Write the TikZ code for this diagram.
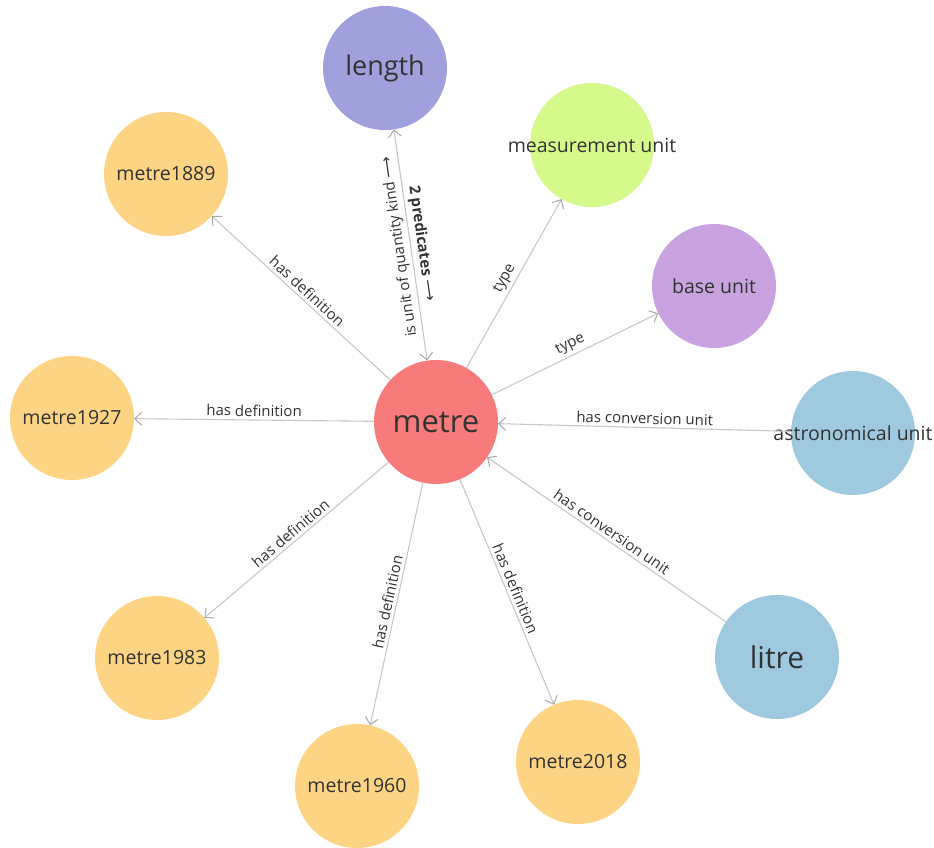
\documentclass[tikz,border=0pt]{standalone}
\usepackage{fontspec}
\setmainfont{Open Sans}
\newfontfamily\symfont{DejaVu Sans}
\usetikzlibrary{arrows.meta}
\definecolor{cMetre}{HTML}{F77B7B}
\definecolor{cLength}{HTML}{A0A0DD}
\definecolor{cMeas}{HTML}{D6F98C}
\definecolor{cBase}{HTML}{C9A3E0}
\definecolor{cBlue}{HTML}{9EC9DE}
\definecolor{cYear}{HTML}{FCD483}
\definecolor{txt}{HTML}{333333}
\definecolor{lineC}{HTML}{C8C8C8}
\definecolor{tipC}{HTML}{A8A8A8}
\begin{document}
\begin{tikzpicture}[x=1pt,y=-1pt,
  nd/.style={circle, minimum size=124pt, inner sep=0pt, outer sep=0pt},
  lbl/.style={font=\fontsize{19.5}{22}\selectfont, text=txt},
  lblbig/.style={font=\fontsize{#1}{#1}\selectfont, text=txt},
  edge/.style={draw=lineC, line width=1.1pt, -{Straight Barb[length=7pt,width=13pt,line width=1pt,color=tipC]}},
  edgeboth/.style={draw=lineC, line width=1.1pt, {Straight Barb[length=7pt,width=13pt,line width=1pt,color=tipC]}-{Straight Barb[length=7pt,width=13pt,line width=1pt,color=tipC]}},
  elab/.style={font=\fontsize{15}{16}\selectfont, text=txt, sloped, above, midway, inner sep=3pt}
]
\useasboundingbox (0,0) rectangle (934,848);

\node[nd, fill=cMetre,  label={[lblbig=31]center:metre}] (metre) at (436,422) {};
\node[nd, fill=cLength, label={[lblbig=27]center:length}] (length) at (385,68) {};
\node[nd, fill=cMeas,   label={[lbl]center:measurement unit}] (meas) at (592,145) {};
\node[nd, fill=cBase,   label={[lbl]center:base unit}] (base) at (714,286) {};
\node[nd, fill=cBlue,   label={[lbl]center:astronomical unit}] (astro) at (853,433) {};
\node[nd, fill=cBlue,   label={[lblbig=30]center:litre}] (litre) at (777,657) {};
\node[nd, fill=cYear,   label={[lbl]center:metre2018}] (m2018) at (578,762) {};
\node[nd, fill=cYear,   label={[lbl]center:metre1960}] (m1960) at (357,786) {};
\node[nd, fill=cYear,   label={[lbl]center:metre1983}] (m1983) at (157,658) {};
\node[nd, fill=cYear,   label={[lbl]center:metre1927}] (m1927) at (72,418) {};
\node[nd, fill=cYear,   label={[lbl]center:metre1889}] (m1889) at (166,174) {};

\draw[edge] (metre) -- node[elab]{has definition} (m1889);
\draw[edge] (metre) -- node[elab]{has definition} (m1927);
\draw[edge] (metre) -- node[elab]{has definition} (m1983);
\draw[edge] (metre) -- node[elab]{has definition} (m1960);
\draw[edge] (metre) -- node[elab]{has definition} (m2018);
\draw[edge] (metre) -- node[elab]{type} (meas);
\draw[edge] (metre) -- node[elab]{type} (base);
\draw[edge] (astro) -- node[elab]{has conversion unit} (metre);
\draw[edge] (litre) -- node[elab]{has conversion unit} (metre);
\draw[edgeboth] (metre) -- node[elab]{\textbf{2 predicates} {\symfont ⟶}}
  node[elab, allow upside down]{is unit of quantity kind {\symfont ⟶}} (length);
\end{tikzpicture}
\end{document}
